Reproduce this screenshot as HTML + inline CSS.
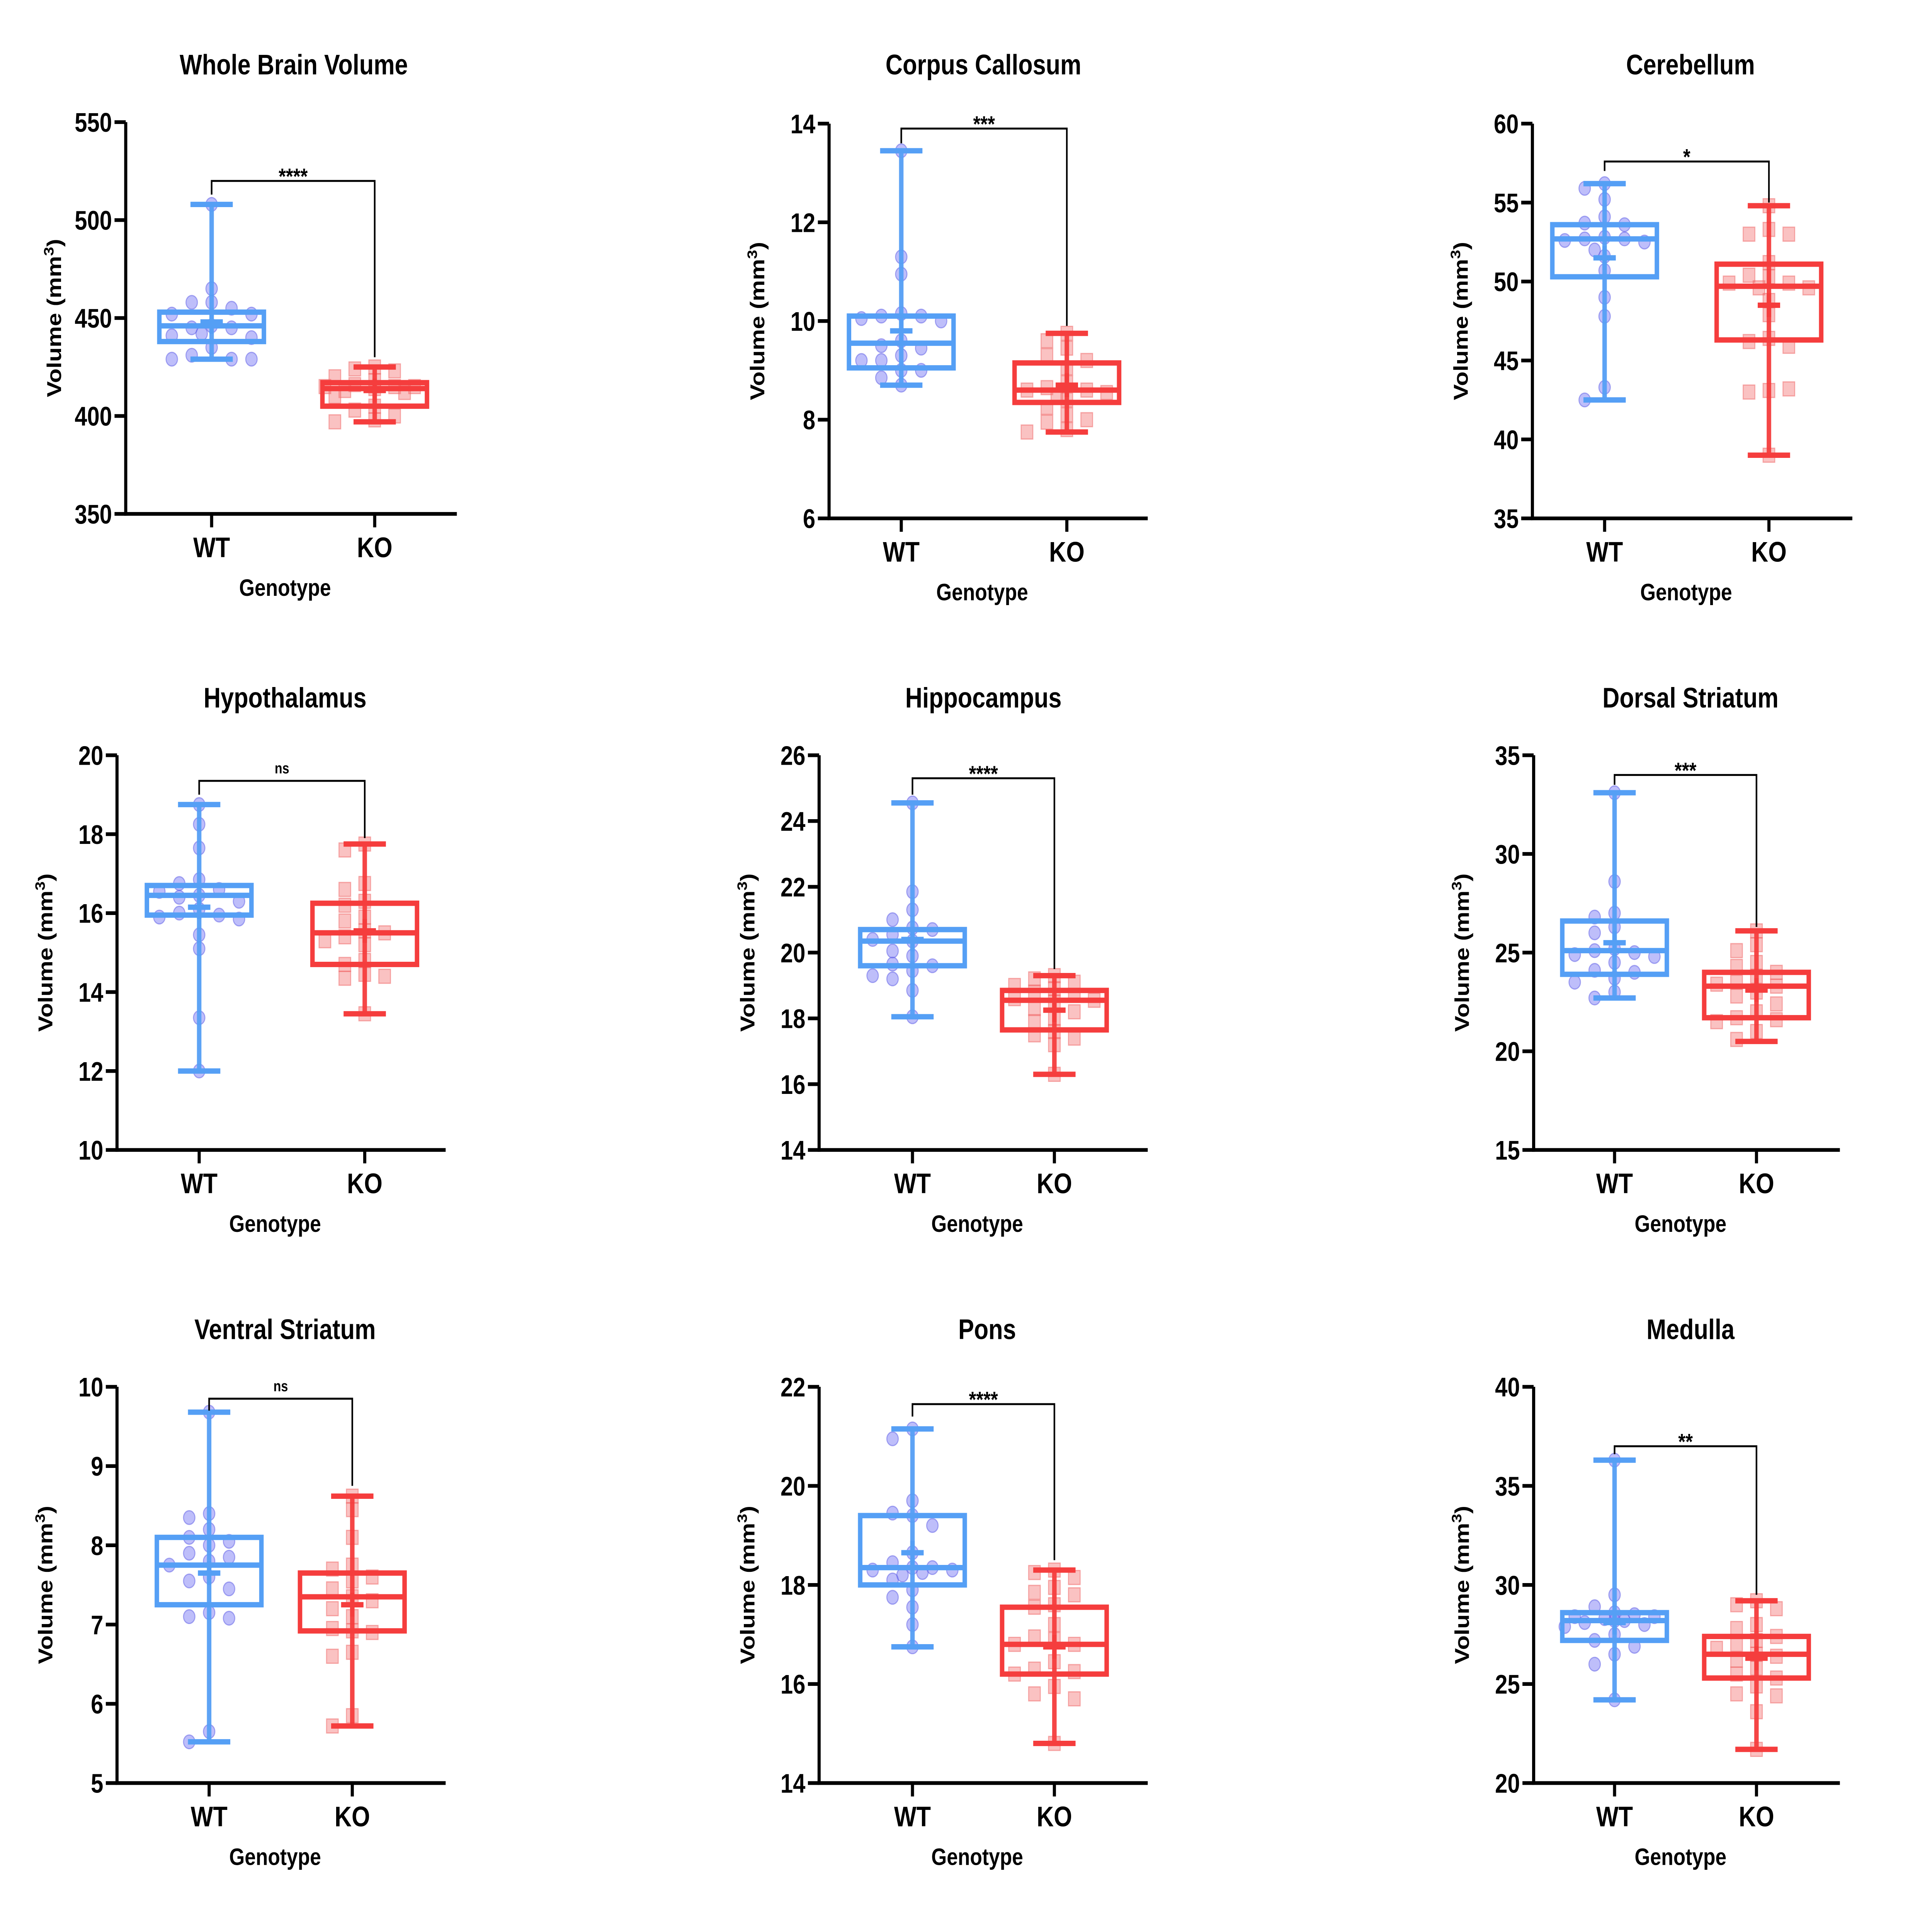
<!DOCTYPE html>
<html><head><meta charset="utf-8"><style>
html,body{margin:0;padding:0;background:#fff;width:100%;height:100%;overflow:hidden}
svg{display:block;position:fixed;left:0;top:0;width:100vw;height:100vh}
text{font-family:"Liberation Sans",Arial,sans-serif;font-weight:bold;fill:#000}
</style></head><body>
<svg xmlns="http://www.w3.org/2000/svg" viewBox="0 0 1552 1297" preserveAspectRatio="none"><g id="fig"></g></svg>
<script>
const titles=["Whole Brain Volume","Corpus Callosum","Cerebellum","Hypothalamus","Hippocampus","Dorsal Striatum","Ventral Striatum","Pons","Medulla"];
const yMins=[350,6,35,10,14,15,5,14,20];
const yMaxs=[550,14,60,20,26,35,10,22,40];
const yTickSteps=[50,2,5,2,2,5,1,2,5];
const sigLabels=["****","***","*","ns","****","***","ns","****","**"];
const bracketVals=[520,13.9,57.6,19.35,25.3,34,9.85,21.65,37];
const bracketKoEnds=[430,9.9,55,17.9,19.5,26.3,8.75,18.5,29.5];
const bracketWtEnds=[513,13.6,57,19,24.8,33.5,9.7,21.4,36.6];
// box stats: [min,q1,median,q3,max,mean]
const wtStats=[[429,438,446,453,508,448],[8.7,9.05,9.55,10.1,13.45,9.8],[42.5,50.3,52.7,53.6,56.2,51.5],[12,15.95,16.45,16.7,18.75,16.15],[18.05,19.6,20.35,20.7,24.55,20.4],[22.7,23.9,25.1,26.6,33.1,25.5],[5.52,7.25,7.75,8.1,9.68,7.65],[16.75,18.0,18.35,19.4,21.15,18.65],[24.2,27.2,28.2,28.6,36.3,28.1]];
const koStats=[[397,405,414,417,425,413],[7.75,8.35,8.6,9.15,9.75,8.7],[39,46.3,49.7,51.1,54.8,48.5],[13.45,14.7,15.5,16.25,17.75,15.55],[16.3,17.65,18.55,18.85,19.3,18.25],[20.5,21.7,23.3,24,26.1,23.1],[5.72,6.92,7.35,7.65,8.62,7.25],[14.8,16.2,16.8,17.55,18.3,16.75],[21.7,25.3,26.5,27.4,29.2,26.3]];
const wtPoints=[
[508,465,458,458,455,452,452,446,445,445,441,440,442,435,431,429,429,429],
[13.45,11.3,10.95,10.15,10.1,10.1,10.05,10.0,9.6,9.5,9.45,9.3,9.2,9.2,9.0,9.0,8.85,8.7],
[56.2,55.9,55.2,54.1,53.7,53.6,52.8,52.7,52.7,52.6,52.5,52.0,51.6,50.7,49.0,47.8,43.3,42.5],
[18.75,18.25,17.65,16.85,16.75,16.6,16.55,16.45,16.4,16.3,16.1,16.0,15.95,15.9,15.85,15.45,15.1,13.35,12.0],
[24.55,21.85,21.3,21.0,20.75,20.7,20.55,20.4,20.35,20.05,19.9,19.65,19.6,19.45,19.3,19.2,18.85,18.05],
[33.1,28.6,27.0,26.8,26.3,26.0,25.2,25.1,25.0,24.9,24.8,24.5,24.1,24.0,23.7,23.5,23.0,22.7],
[9.68,8.4,8.35,8.2,8.1,8.05,8.0,7.9,7.85,7.8,7.75,7.6,7.55,7.45,7.15,7.1,7.08,5.65,5.52],
[21.15,20.95,19.7,19.45,19.4,19.2,18.65,18.45,18.35,18.35,18.3,18.3,18.2,18.25,18.1,17.9,17.75,17.55,17.2,16.75],
[36.3,29.5,28.9,28.6,28.5,28.4,28.4,28.3,28.2,28.2,28.1,28.0,27.9,27.5,27.2,26.9,26.5,26.0,24.2]];
const koPoints=[
[425,424,423,420,418,416,415,415,415,414,413,412,410,405,403,400,398,397],
[9.75,9.6,9.45,9.3,9.2,9.05,8.75,8.65,8.6,8.6,8.55,8.5,8.4,8.25,8.1,8.0,7.95,7.8,7.75],
[54.8,53.3,53.0,53.0,51.2,50.4,50.3,49.9,49.9,49.6,49.6,48.8,47.9,46.4,46.2,45.9,43.1,43.0,43.2,39.0],
[17.75,17.6,16.75,16.6,16.3,16.2,15.9,15.8,15.55,15.5,15.4,15.3,15.2,14.8,14.7,14.45,14.4,14.35,13.45],
[19.3,19.2,19.1,19.0,18.9,18.8,18.7,18.6,18.5,18.55,18.3,18.2,18.0,17.9,17.6,17.5,17.4,17.2,16.3],
[26.1,25.4,25.1,24.5,24.3,24.0,23.8,23.5,23.4,23.3,23.0,22.8,22.4,22.0,21.7,21.6,21.5,21.0,20.6],
[8.62,8.45,8.1,7.75,7.7,7.6,7.55,7.45,7.35,7.3,7.2,7.1,6.95,6.92,6.9,6.65,6.6,5.85,5.72],
[18.3,18.25,18.15,17.95,17.85,17.8,17.6,17.55,17.2,16.95,16.9,16.8,16.8,16.45,16.3,16.25,16.2,15.95,15.8,15.7,14.8],
[29.2,29.0,28.8,28.0,27.8,27.4,27.2,27.0,26.8,26.5,26.4,26.2,25.8,25.5,25.3,24.9,24.5,24.4,23.6,21.7]];
// layout (pixel geometry, not data)
const layout=[
{ax:101,top:82,bot:345,xend:367,wt:170,ko:301,tx:236},
{ax:666,top:83,bot:348,xend:922,wt:724,ko:857,tx:790},
{ax:1231,top:83,bot:348,xend:1488,wt:1289,ko:1421,tx:1358},
{ax:94,top:507,bot:772,xend:358,wt:160,ko:293,tx:229},
{ax:658,top:507,bot:772,xend:922,wt:733,ko:847,tx:790},
{ax:1232,top:507,bot:772,xend:1478,wt:1297,ko:1411,tx:1358},
{ax:94,top:931,bot:1197,xend:358,wt:168,ko:283,tx:229},
{ax:658,top:931,bot:1197,xend:922,wt:733,ko:847,tx:793},
{ax:1232,top:931,bot:1197,xend:1478,wt:1297,ko:1411,tx:1358}];
const titleY=[44,44,44,469,469,469,893,893,893];
const NS="http://www.w3.org/2000/svg";
const fig=document.getElementById('fig');
function mk(tag,attrs,parent){const e=document.createElementNS(NS,tag);for(const k in attrs)e.setAttribute(k,attrs[k]);parent.appendChild(e);return e;}
const BLUE="#559ff5",RED="#f53d3d";
for(let p=0;p<9;p++){
  const L=layout[p];
  const g=mk('g',{},fig);
  
  
  const y=v=>L.bot-(v-yMins[p])/(yMaxs[p]-yMins[p])*(L.bot-L.top);
  const t=mk('text',{x:L.tx,y:titleY[p]+6,'text-anchor':'middle','font-size':19},g);t.textContent=titles[p];
  
  const ya=mk('line',{x1:L.ax,y1:L.top,x2:L.ax,y2:L.bot+1.2,stroke:'#000','stroke-width':2.5},g);
  
  const xa=mk('line',{x1:L.ax-1.2,y1:L.bot,x2:L.xend,y2:L.bot,stroke:'#000','stroke-width':2.5},g);
  
  for(let v=yMins[p];v<=yMaxs[p]+1e-9;v+=yTickSteps[p]){
    const yy=y(v);
    mk('line',{x1:L.ax-9,y1:yy,x2:L.ax,y2:yy,stroke:'#000','stroke-width':2.5},g);
    const tl=mk('text',{x:L.ax-11,y:yy+6.5,'text-anchor':'end','font-size':18},g);tl.textContent=String(Math.round(v*100)/100);
    
  }
  [[L.wt,'WT'],[L.ko,'KO']].forEach(([x,lab])=>{
    mk('line',{x1:x,y1:L.bot,x2:x,y2:L.bot+9,stroke:'#000','stroke-width':2.5},g);
    const xl=mk('text',{x:x,y:L.bot+29,'text-anchor':'middle','font-size':19},g);xl.textContent=lab;
    
  });
  const xt=mk('text',{x:(L.ax+L.xend)/2-5,y:L.bot+55,'text-anchor':'middle','font-size':16},g);xt.textContent='Genotype';
  
  const cy=(L.top+L.bot)/2, cx=L.ax-52;
  const yt=mk('text',{x:cx,y:cy,'text-anchor':'middle','font-size':16,transform:`rotate(-90 ${cx} ${cy})`},g);
  yt.innerHTML='Volume (mm<tspan dy="-6" font-size="11">3</tspan><tspan dy="6">)</tspan>';
  
  [[L.wt,wtStats[p],wtPoints[p],BLUE,'wt'],[L.ko,koStats[p],koPoints[p],RED,'ko']].forEach(([x,s,pts,col,nm])=>{
    const gg=mk('g',{},g);
    
    const placed=[];const offs=[0,-16,16,-32,32,-8,8,-24,24,-40,40];
    pts.forEach(v=>{
      const yy=y(v);let ox=0;
      for(const o of offs){if(!placed.some(q=>Math.hypot(q[0]-o,q[1]-yy)<8.5)){ox=o;break;}}
      placed.push([ox,yy]);
      let m;
      if(nm==='wt') m=mk('circle',{cx:x+ox,cy:yy,r:4.6,fill:'rgba(110,110,245,0.45)',stroke:'rgba(90,90,230,0.5)','stroke-width':0.8},gg);
      else m=mk('rect',{x:x+ox-4.7,y:yy-4.7,width:9.4,height:9.4,fill:'rgba(245,120,120,0.45)',stroke:'rgba(240,100,100,0.5)','stroke-width':0.8},gg);
      
    });
    const sw=3.6;
    const wh=mk('line',{x1:x,y1:y(s[4]),x2:x,y2:y(s[0]),stroke:col,'stroke-width':sw,opacity:0.95},gg);
    
    mk('line',{x1:x-17,y1:y(s[4]),x2:x+17,y2:y(s[4]),stroke:col,'stroke-width':sw},gg);
    mk('line',{x1:x-17,y1:y(s[0]),x2:x+17,y2:y(s[0]),stroke:col,'stroke-width':sw},gg);
    const bx=mk('rect',{x:x-42,y:y(s[3]),width:84,height:y(s[1])-y(s[3]),fill:'none',stroke:col,'stroke-width':sw},gg);
    
    const md=mk('line',{x1:x-42,y1:y(s[2]),x2:x+42,y2:y(s[2]),stroke:col,'stroke-width':sw},gg);
    
    const my=y(s[5]);
    const mn=mk('path',{d:`M${x-9},${my}H${x+9}M${x},${my-8}V${my+8}`,stroke:col,'stroke-width':sw,fill:'none'},gg);
    
  });
  const by=y(bracketVals[p]);
  const br=mk('path',{d:`M${L.wt},${y(bracketWtEnds[p])}V${by}H${L.ko}V${y(bracketKoEnds[p])}`,stroke:'#000','stroke-width':1.3,fill:'none'},g);
  
  const ns=sigLabels[p]==='ns';
  const sl=mk('text',{x:(L.wt+L.ko)/2,y:ns?by-5:by+2,'text-anchor':'middle','font-size':ns?10:15,'font-weight':ns?'normal':'bold'},g);
  sl.textContent=sigLabels[p];
  
}
</script>
</body></html>
